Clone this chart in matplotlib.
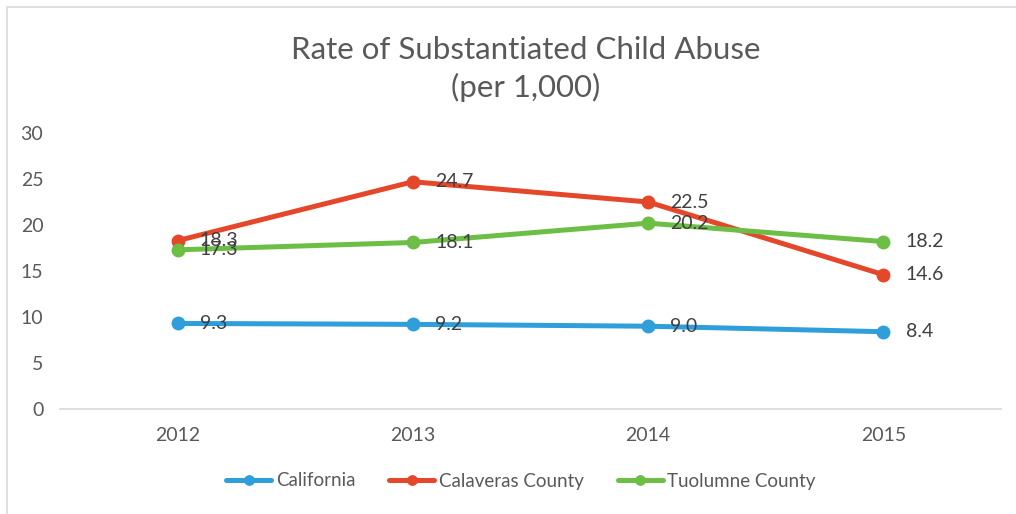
import matplotlib.pyplot as plt
from matplotlib.patches import Rectangle

years = ['2012', '2013', '2014', '2015']
california = [9.3, 9.2, 9.0, 8.4]
calaveras = [18.3, 24.7, 22.5, 14.6]
tuolumne = [17.3, 18.1, 20.2, 18.2]

series = [
    ('California', california, '#2E9FDB'),
    ('Calaveras County', calaveras, '#E5472B'),
    ('Tuolumne County', tuolumne, '#6CBE45'),
]

plt.rcParams['font.family'] = ['Lato', 'DejaVu Sans']

fig = plt.figure(figsize=(10.16, 5.14), dpi=100)
ax = fig.add_axes([60 / 1016, 1 - 409 / 514, 941 / 1016, 276 / 514])

x = list(range(len(years)))
for name, vals, color in series:
    ax.plot(x, vals, color=color, linewidth=3.6, marker='o', markersize=9,
            label=name, solid_capstyle='round')
    for xi, v in zip(x, vals):
        ax.annotate(f'{v:.1f}', (xi, v), xytext=(16, 0), textcoords='offset points',
                    ha='left', va='center', fontsize=14, color='#404040')

ax.set_xlim(-0.5, 3.5)
ax.set_ylim(0, 30)
ax.set_yticks(range(0, 31, 5))
ax.set_xticks(x)
ax.set_xticklabels(years)
ax.tick_params(axis='both', length=0, labelsize=14, labelcolor='#595959')
ax.tick_params(axis='y', pad=12)
ax.tick_params(axis='x', pad=13)
for side in ['top', 'right', 'left']:
    ax.spines[side].set_visible(False)
ax.spines['bottom'].set_color('#D9D9D9')
ax.spines['bottom'].set_linewidth(1.2)

fig.text(526 / 1016, 1 - 69 / 514, 'Rate of Substantiated Child Abuse\n(per 1,000)',
         ha='center', va='center', fontsize=22.5, color='#595959', linespacing=1.35)

leg = fig.legend(loc='center', bbox_to_anchor=(521 / 1016, 1 - 481 / 514), ncol=3,
                 frameon=False, fontsize=13.5, handlelength=2.4, columnspacing=1.8,
                 handletextpad=0.25, markerscale=0.75)
for t in leg.get_texts():
    t.set_color('#595959')

fig.patches.append(Rectangle((7 / 1016, -0.1), 1.2, 1 - 7 / 514 + 0.1,
                             transform=fig.transFigure, fill=False,
                             edgecolor='#D9D9D9', linewidth=1.2))

fig.savefig('out.png', dpi=100)
